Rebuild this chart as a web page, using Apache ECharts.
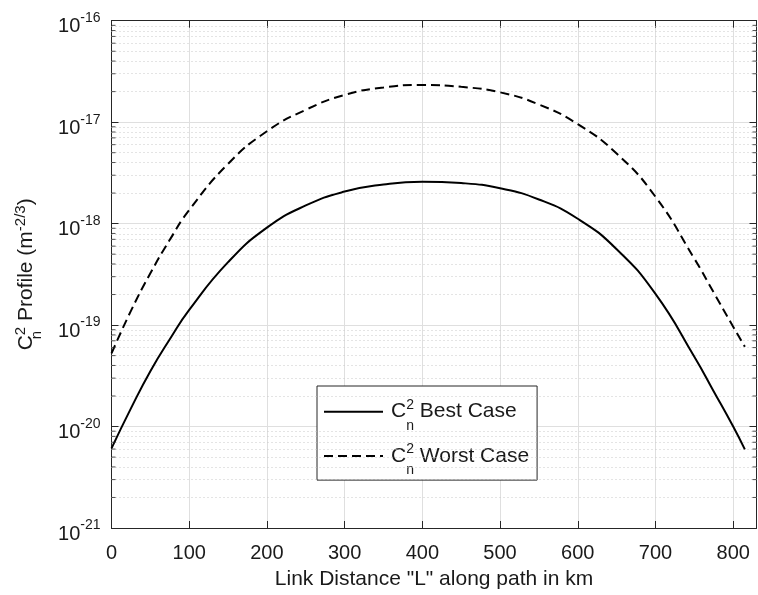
<!DOCTYPE html>
<html>
<head>
<meta charset="utf-8">
<script src="https://cdn.jsdelivr.net/npm/echarts@6/dist/echarts.min.js"></script>
<style>
  html, body { margin: 0; padding: 0; background: #ffffff; }
  #chart { width: 758px; height: 595px; }
</style>
</head>
<body>
<div id="chart"></div>
<script>
// Link distance along the path (km)
const distanceKm = [0, 25, 50, 75, 100, 150, 200, 250, 300, 350, 400, 450, 500, 550, 600, 650, 700, 750, 775, 800, 815];
// Cn^2 profile, best case (m^-2/3)
const bestCase = [6.1e-21, 1.51e-20, 3.51e-20, 7.24e-20, 1.41e-19, 4.17e-19, 9.12e-19, 1.51e-18, 2.07e-18, 2.43e-18, 2.59e-18,
                  2.51e-18, 2.23e-18, 1.73e-18, 1.117e-18, 5.6e-19, 2.03e-19, 4.88e-20, 2.22e-20, 1.0e-20, 5.96e-21];
// Cn^2 profile, worst case (m^-2/3)
const worstCase = [5.25e-20, 1.38e-19, 3.24e-19, 6.92e-19, 1.36e-18, 3.88e-18, 8.13e-18, 1.324e-17, 1.853e-17, 2.198e-17, 2.323e-17,
                   2.228e-17, 1.968e-17, 1.493e-17, 9.55e-18, 4.9e-18, 1.84e-18, 4.52e-19, 2.09e-19, 9.64e-20, 6.12e-20];
// Axis ticks
const xTickValues = [0, 100, 200, 300, 400, 500, 600, 700, 800];
const yTickExponents = [-21, -20, -19, -18, -17, -16];
const minorFactors = [2, 3, 4, 5, 6, 7, 8, 9];
const X_MIN = 0, X_MAX = 830;

const FONT = "'Liberation Sans', Arial, Helvetica, sans-serif";
const AXIS_COLOR = '#262626';
const TEXT_COLOR = '#1a1a1a';

// The vertical axis is logarithmic: it is laid out in decades (log10 of the value).
const lg = v => Math.log10(v);
const Y_MIN = yTickExponents[0];
const Y_MAX = yTickExponents[yTickExponents.length - 1];

// minor log positions (2..9 within every decade), as decade coordinates
const minorValues = [];
yTickExponents.slice(0, -1).forEach(e => {
  minorFactors.forEach(f => minorValues.push(lg(f * Math.pow(10, e))));
});

const chart = echarts.init(document.getElementById('chart'), null, { renderer: 'canvas' });

const legendRich = {
  c: { fontSize: 21, fontFamily: FONT, color: TEXT_COLOR, padding: [0, 0, 0, 3] },
  n: { fontSize: 14, fontFamily: FONT, color: TEXT_COLOR, width: 0, padding: [28, 0, 0, 0] },
  s: { fontSize: 14, fontFamily: FONT, color: TEXT_COLOR, padding: [0, 0, 14, 0] }
};

const axisNameRich = {
  n: { fontSize: 15, fontFamily: FONT, color: TEXT_COLOR, width: 0, padding: [22, 0, 0, 0] },
  s: { fontSize: 15, fontFamily: FONT, color: TEXT_COLOR, padding: [0, 0, 11, 0] }
};

function expLabel(v) {
  const e = Math.round(v);
  if (Math.abs(v - e) > 1e-6 || yTickExponents.indexOf(e) < 0) return '';
  return '{b|10}{e|' + e + '}';
}

const option = {
  animation: false,
  backgroundColor: '#ffffff',
  textStyle: { fontFamily: FONT },
  grid: { left: 111.5, right: 1.5, top: 20.7, bottom: 67, containLabel: false, outerBoundsMode: 'none' },
  legend: {
    orient: 'vertical',
    left: 317,
    top: 386,
    padding: [11.7, 8, 3.2, 6],
    itemGap: 9.2,
    itemWidth: 59,
    itemHeight: 14,
    backgroundColor: '#ffffff',
    borderColor: AXIS_COLOR,
    borderWidth: 1,
    borderRadius: 0,
    itemStyle: { opacity: 0 },
    data: ['Best Case', 'Worst Case'],
    formatter: name => '{c|C}{n|n}{s|2} ' + name,
    textStyle: {
      fontSize: 21, fontFamily: FONT, color: TEXT_COLOR,
      rich: legendRich
    }
  },
  xAxis: [{
    type: 'value',
    min: X_MIN,
    max: X_MAX,
    interval: 100,
    name: 'Link Distance "L" along path in km',
    nameLocation: 'middle',
    nameGap: 41,
    nameTextStyle: { fontSize: 21, fontFamily: FONT, color: TEXT_COLOR },
    axisLine: { show: true, onZero: false, lineStyle: { color: AXIS_COLOR, width: 1 } },
    axisTick: { show: true, inside: true, length: 7, lineStyle: { color: AXIS_COLOR } },
    axisLabel: {
      margin: 15, fontSize: 20, fontFamily: FONT, color: TEXT_COLOR,
      showMaxLabel: false,
      formatter: v => (xTickValues.indexOf(v) >= 0 ? String(v) : '')
    },
    splitLine: { show: true, lineStyle: { color: '#dfdfdf', width: 1 } }
  }, {
    type: 'value',
    position: 'top',
    min: X_MIN,
    max: X_MAX,
    interval: 100,
    axisLine: { show: true, onZero: false, lineStyle: { color: AXIS_COLOR, width: 1 } },
    axisTick: { show: true, inside: true, length: 7, lineStyle: { color: AXIS_COLOR } },
    axisLabel: { show: false },
    splitLine: { show: false }
  }],
  yAxis: [{
    type: 'value',
    min: Y_MIN,
    max: Y_MAX,
    interval: 1,
    name: 'C{n|n}{s|2} Profile (m{s|-2/3})',
    nameLocation: 'middle',
    nameRotate: 90,
    nameGap: 67,
    nameTextStyle: { fontSize: 21, fontFamily: FONT, color: TEXT_COLOR, rich: axisNameRich },
    axisLine: { show: true, onZero: false, lineStyle: { color: AXIS_COLOR, width: 1 } },
    axisTick: { show: true, inside: true, length: 7, lineStyle: { color: AXIS_COLOR } },
    axisLabel: {
      margin: 11, fontFamily: FONT, color: TEXT_COLOR,
      formatter: expLabel,
      rich: {
        b: { fontSize: 20, fontFamily: FONT, color: TEXT_COLOR, padding: [12, 0, 0, 0] },
        e: { fontSize: 14, fontFamily: FONT, color: TEXT_COLOR, padding: [0, 0, 5, 0] }
      }
    },
    splitLine: { show: true, lineStyle: { color: '#dfdfdf', width: 1 } }
  }, {
    type: 'value',
    position: 'right',
    min: Y_MIN,
    max: Y_MAX,
    interval: 1,
    axisLine: { show: true, onZero: false, lineStyle: { color: AXIS_COLOR, width: 1 } },
    axisTick: { show: true, inside: true, length: 7, lineStyle: { color: AXIS_COLOR } },
    axisLabel: { show: false },
    splitLine: { show: false }
  }],
  series: [{
    // dotted minor grid across the plot
    name: 'minor-grid',
    type: 'line',
    data: [],
    silent: true,
    z: 1,
    markLine: {
      silent: true,
      symbol: ['none', 'none'],
      label: { show: false },
      animation: false,
      lineStyle: { color: '#c8c8c8', type: [1, 3], width: 1 },
      emphasis: { disabled: true },
      data: minorValues.map(v => ({ yAxis: v }))
    }
  }, {
    // minor ticks on the left edge
    name: 'minor-left',
    type: 'scatter',
    silent: true,
    clip: false,
    symbol: 'rect',
    symbolSize: [4, 1],
    symbolOffset: [2, 0],
    itemStyle: { color: AXIS_COLOR },
    data: minorValues.map(v => [X_MIN, v]),
    z: 6
  }, {
    // minor ticks on the right edge
    name: 'minor-right',
    type: 'scatter',
    silent: true,
    clip: false,
    symbol: 'rect',
    symbolSize: [4, 1],
    symbolOffset: [-2, 0],
    itemStyle: { color: AXIS_COLOR },
    data: minorValues.map(v => [X_MAX, v]),
    z: 6
  }, {
    name: 'Best Case',
    type: 'line',
    data: distanceKm.map((d, i) => [d, lg(bestCase[i])]),
    smooth: 0.5,
    symbol: 'none',
    lineStyle: { color: '#000000', width: 2, type: 'solid' },
    itemStyle: { color: '#000000' },
    z: 5
  }, {
    name: 'Worst Case',
    type: 'line',
    data: distanceKm.map((d, i) => [d, lg(worstCase[i])]),
    smooth: 0.5,
    symbol: 'none',
    lineStyle: { color: '#000000', width: 2, type: [9, 5] },
    itemStyle: { color: '#000000' },
    z: 5
  }]
};

chart.setOption(option);
</script>
</body>
</html>
